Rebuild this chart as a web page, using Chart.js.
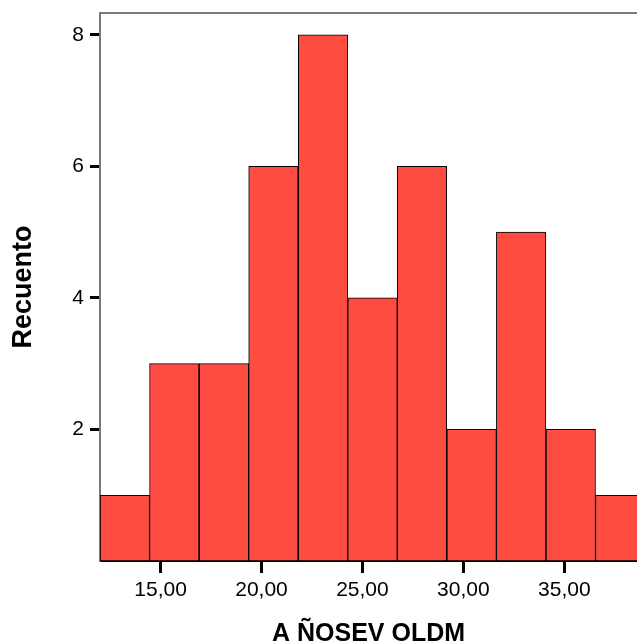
<!DOCTYPE html>
<html>
<head>
<meta charset="utf-8">
<script src="https://cdn.jsdelivr.net/npm/chart.js@4/dist/chart.umd.min.js"></script>
<style>
  body { margin: 0; background: #fff; }
  #wrap { width: 637px; height: 644px; position: relative; }
</style>
</head>
<body>
<div id="wrap"><canvas id="myChart"></canvas></div>
<script>
// bin centres (AÑOSEVOLDM) and counts per bin
const binCenters = [13.23, 15.68, 18.14, 20.59, 23.05, 25.5, 27.95, 30.41, 32.86, 35.32, 37.77];
const counts = [1, 3, 3, 6, 8, 4, 6, 2, 5, 2, 1];
const xTicks = [15, 20, 25, 30, 35];
const yTicks = [2, 4, 6, 8];

const fontFamily = "'Liberation Sans', Arial, sans-serif";

// gray frame line on top of the plot area
const topBorder = {
  id: "topBorder",
  afterDraw(chart) {
    const { ctx, chartArea } = chart;
    ctx.save();
    ctx.strokeStyle = "#7a7a7a";
    ctx.lineWidth = 2;
    ctx.beginPath();
    ctx.moveTo(chartArea.left, chartArea.top);
    ctx.lineTo(chartArea.right + 2, chartArea.top);
    ctx.stroke();
    ctx.restore();
  }
};

const config = {
  type: "bar",
  data: {
    datasets: [{
      label: "Recuento",
      data: binCenters.map((x, i) => ({ x: x, y: counts[i] })),
      backgroundColor: "#fe4c42",
      borderColor: "#000",
      borderWidth: 1,
      borderSkipped: false,
      barPercentage: 1,
      categoryPercentage: 1
    }]
  },
  options: {
    responsive: true,
    maintainAspectRatio: false,
    animation: false,
    layout: { padding: { top: 13, left: 0, right: 0, bottom: 0 } },
    plugins: {
      legend: { display: false },
      tooltip: { enabled: false }
    },
    scales: {
      x: {
        type: "linear",
        min: 12,
        max: 38.6,
        offset: false,
        afterBuildTicks: (scale) => { scale.ticks = xTicks.map(v => ({ value: v })); },
        afterFit: (scale) => { scale.height = 83; },
        grid: {
          offset: false,
          drawOnChartArea: false,
          tickLength: 12,
          tickWidth: 3,
          tickColor: "#000"
        },
        border: { display: true, color: "#000", width: 2 },
        ticks: {
          color: "#000",
          padding: 5,
          maxRotation: 0,
          font: { family: fontFamily, size: 21 },
          callback: (v) => v.toFixed(2).replace(".", ",")
        },
        title: {
          display: true,
          text: "A ÑOSEV OLDM",
          color: "#000",
          font: { family: fontFamily, size: 25, weight: "bold", lineHeight: 0.8 },
          padding: { top: 0, bottom: 0 }
        }
      },
      y: {
        min: 0,
        max: 8.33,
        afterBuildTicks: (scale) => { scale.ticks = yTicks.map(v => ({ value: v })); },
        afterFit: (scale) => {
          scale.width = 100;
          scale.paddingTop = 0;
          scale.paddingBottom = 0;
        },
        grid: {
          drawOnChartArea: false,
          tickLength: 10,
          tickWidth: 3,
          tickColor: "#000"
        },
        border: { display: true, color: "#7a7a7a", width: 2 },
        ticks: {
          color: "#000",
          padding: 6,
          font: { family: fontFamily, size: 21 }
        },
        title: {
          display: true,
          text: "Recuento",
          color: "#000",
          font: { family: fontFamily, size: 27, weight: "bold", lineHeight: 1 },
          padding: { top: 10, bottom: 0 }
        }
      }
    }
  },
  plugins: [topBorder]
};

new Chart(document.getElementById("myChart"), config);
</script>
</body>
</html>
